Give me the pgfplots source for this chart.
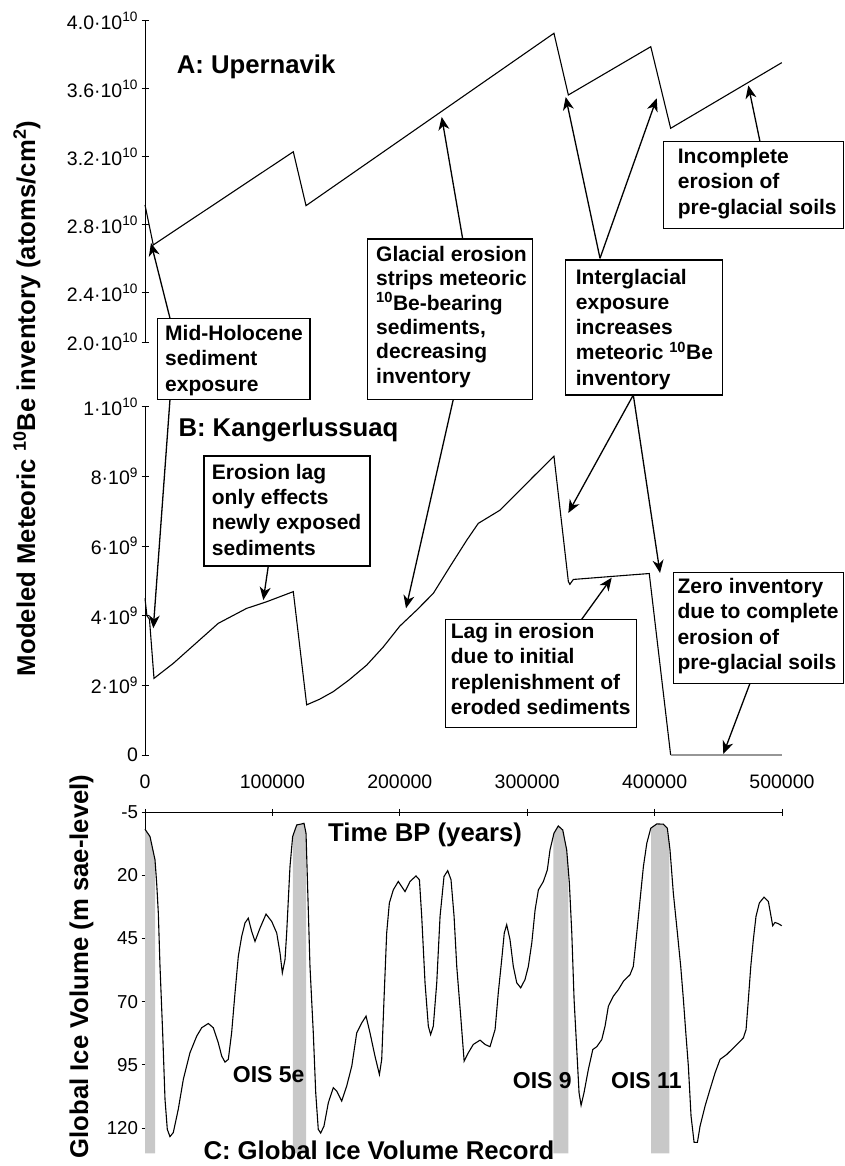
\documentclass[border=0pt]{standalone}
\usepackage{fontspec}
\setmainfont{Liberation Sans}
\usepackage{pgfplots}
\pgfplotsset{compat=1.18}
\usetikzlibrary{arrows.meta}
\definecolor{band}{RGB}{200,200,200}
\definecolor{zline}{RGB}{150,150,150}
\newcommand\annofont{\fontsize{21}{25}\selectfont\bfseries}
\newcommand\labfont{\fontsize{25.7}{30}\selectfont\bfseries}
\newcommand\oisfont{\fontsize{23}{26}\selectfont\bfseries}
\pgfplotsset{
  myax/.style={scale only axis, width=637pt, xmin=0, xmax=500000, clip=false,
    scaled ticks=false,
    tick style={line width=0.9pt, black}, major tick length=7pt, tick align=outside,
    every tick label/.append style={font=\fontsize{19.5}{22}\selectfont},
    minor tick num=0},
  noarrows/.style={axis line style={-, line width=0.9pt},
    every outer x axis line/.append style={-},
    every outer y axis line/.append style={-},
    every inner x axis line/.append style={-},
    every inner y axis line/.append style={-}},
}
\begin{document}
\begin{tikzpicture}
\useasboundingbox (0,0) rectangle (844pt,1166pt);

% Panel A
\begin{axis}[myax, at={(145pt,824pt)}, anchor=south west, height=321.3pt,
  ymin=2.11, ymax=4.0, axis y line=left, axis x line=none, noarrows,
  ytick={2.11,2.4,2.8,3.2,3.6,4.0},
  yticklabels={2.0·10\textsuperscript{10},2.4·10\textsuperscript{10},2.8·10\textsuperscript{10},3.2·10\textsuperscript{10},3.6·10\textsuperscript{10},4.0·10\textsuperscript{10}}]
\addplot[black, line width=1.1pt] coordinates {
(0,2.916) (6500,2.681) (116400,3.229) (126400,2.912) (321000,3.926)
(332300,3.563) (397000,3.847) (412600,3.367) (499800,3.753)};
\end{axis}

% Panel B
\begin{axis}[myax, at={(145pt,411pt)}, anchor=south west, height=348.3pt,
  ymin=0, ymax=10, axis y line=left, axis x line=none, noarrows,
  ytick={0,2,4,6,8,10},
  yticklabels={0,2·10\textsuperscript{9},4·10\textsuperscript{9},6·10\textsuperscript{9},8·10\textsuperscript{9},1·10\textsuperscript{10}}]
\addplot[black, line width=1.1pt] coordinates {
(0,4.50) (1500,4.00) (3500,3.90) (7060,2.20) (22200,2.63) (57500,3.78)
(79800,4.21) (95500,4.40) (116400,4.69) (126900,1.44) (137000,1.60) (147800,1.82)
(160000,2.15) (174000,2.58) (187000,3.10) (200000,3.70) (213000,4.15) (226300,4.64) (239400,5.41)
(252600,6.17) (261600,6.65) (278700,7.03) (304800,7.99) (321000,8.58)
(332300,4.98) (333500,4.90) (336200,5.04) (378000,5.16) (395800,5.21)
(412600,0)};
\addplot[zline, line width=1.1pt] coordinates {(412600,0) (500000,0)};
\end{axis}

% Panel C
\begin{axis}[myax, at={(145pt,12.7pt)}, anchor=south west, height=341pt,
  ymin=-5, ymax=130, y dir=reverse, axis y line=left, axis x line=top, noarrows,
  ytick={-5,20,45,70,95,120},
  yticklabels={-5,20,45,70,95,120},
  yticklabel style={font=\fontsize{18.7}{22}\selectfont},
  xtick={0,100000,200000,300000,400000,500000},
  xticklabels={0,100000,200000,300000,400000,500000},
  xticklabel style={yshift=17pt}]
\addplot[fill=band, draw=none] coordinates {(0,130) (0,1.7) (3925,4.6) (7850,13.8) (7850,130)} -- cycle;
\addplot[fill=band, draw=none] coordinates {(116000,130) (116000,4.3) (119100,0) (123000,-0.4) (124800,-0.65) (126400,3.3) (126400,130)} -- cycle;
\addplot[fill=band, draw=none] coordinates {(320500,130) (320500,4) (321000,3.3) (324400,0.4) (327900,2) (331000,9.9) (332300,18) (332300,130)} -- cycle;
\addplot[fill=band, draw=none] coordinates {(397200,130) (397200,1.2) (401700,-0.4) (406900,-0.3) (410000,1.3) (411600,7.5) (411600,130)} -- cycle;
\addplot[black, line width=1.1pt] table {
x y
0 1.7
3925 4.6
7850 13.8
9160 23
10460 34.9
11780 56
13870 82.3
15700 108.6
17500 120.5
19600 123.4
22200 121.8
26100 112.6
30100 100.7
35300 90.2
40600 83.6
44500 80.3
49700 78.6
53600 80.3
57500 86.2
60200 91.5
62800 93.9
65400 92.8
68000 82.3
70650 66.5
73250 52
75900 44.1
78500 38.8
81100 36.9
83750 42.2
86350 46.1
90300 40.8
95000 35.3
99450 38.2
103400 42.8
106000 50.7
107800 58.6
109900 53.3
111200 42.8
112500 29.6
113800 16.5
115900 4.6
119100 0
123000 -0.4
124800 -0.65
126400 3.3
127400 20.4
129500 56
132100 82.3
134000 106
136000 120.5
137900 122
140500 119.2
143900 110
147800 104
150500 105.4
154400 109.3
158300 103.4
162300 95.5
166200 82.3
170100 78.4
173500 75.7
176600 82.3
180500 91.5
184000 98.8
185800 92.8
187600 69.1
189700 42.8
191800 30.9
194900 25.7
198800 22.4
204100 26.4
208000 22.4
212700 20.2
215400 21.7
217200 36.2
219800 62.5
222400 79.7
224200 83
226300 79.7
229000 62.5
231600 36.2
234700 20.4
237600 18.1
240200 21.7
242600 36.2
244700 56
247800 75.7
250500 93.5
253800 90.2
257700 86.9
263000 85.2
266900 86.9
270800 87.8
274800 81
277300 66.5
280000 53.3
282000 42.8
283900 39.5
286500 45.4
289100 56
291800 62.5
294900 64.5
298300 61.2
300900 56
303600 46.7
306200 33.6
308800 25.7
312700 22.4
315800 17.8
317900 9.9
321000 3.3
324400 0.4
327900 2
331000 9.9
333100 23
335000 42.8
336800 69.1
338900 88.9
340700 106
342300 111
344600 106
348000 96.8
351500 88.9
354600 87.8
358500 85
361100 79.7
363700 71.8
367600 67.8
371600 65.2
375500 61.9
380700 59.3
383300 56
386000 42.8
388600 29.6
391200 16.5
393900 7.2
397000 1.3
401700 -0.4
406900 -0.3
410000 1.3
412100 9.9
414700 27
417900 42.8
420500 56
422600 69.1
424500 82.3
426500 95.5
428600 115.2
431000 125.7
433600 125.7
435700 119.2
439600 111.3
443500 104.7
447500 98.1
451400 92.8
456600 90.9
463200 87.6
469700 84.3
471800 81
473600 69.1
475500 56
477500 45.4
479600 36.2
482200 30.9
485900 28.6
489300 30.3
491400 36.2
492700 39.9
494500 38.6
497100 39.1
499800 39.9
};
\end{axis}

\begin{scope}[x=1pt,y=-1pt,shift={(0pt,1166pt)}]
\tikzset{ann/.style={line width=1.3pt, -{Stealth[length=13pt,width=11pt,inset=4pt]}},
  bx/.style={line width=1.3pt, fill=white}}
% arrows
\draw[ann] (170,318.3) -- (151,243);
\draw[ann] (170,399.3) -- (153.3,628.3);
\draw[ann] (462.7,239) -- (441.7,117);
\draw[ann] (453.3,399.3) -- (406,608.3);
\draw[ann] (600,258.3) -- (565.7,97);
\draw[ann] (600,258.3) -- (656.7,98.3);
\draw[ann] (633.3,395) -- (568.3,513);
\draw[ann] (633.3,395) -- (660,573);
\draw[ann] (760,141.7) -- (748.3,85.5);
\draw[ann] (268.3,566) -- (263.3,600);
\draw[ann] (581.7,619.3) -- (611.7,577.7);
\draw[ann] (750,683.3) -- (723.3,754);
% boxes
\draw[bx] (157.3,318.3) rectangle (310,399.3);
\draw[bx] (367.7,239) rectangle (532.3,399.3);
\draw[bx] (565.7,260) rectangle (722.7,395);
\draw[bx] (663.3,141.7) rectangle (843.3,228.3);
\draw[bx] (204,456) rectangle (370,566);
\draw[bx] (445.7,619.3) rectangle (636.7,727.7);
\draw[bx] (673.3,572.3) rectangle (843.3,683.3);
% box texts
\begin{scope}[every node/.style={anchor=base west, font=\annofont, inner sep=0pt}]
\node at (165,340.7) {Mid-Holocene};
\node at (165,366) {sediment};
\node at (165,391.3) {exposure};
\node at (376,261.7) {Glacial erosion};
\node at (376,286) {strips meteoric};
\node at (376,310.3) {\textsuperscript{10}Be-bearing};
\node at (376,334.6) {sediments,};
\node at (376,358.9) {decreasing};
\node at (376,383.3) {inventory};
\node at (575.7,284.3) {Interglacial};
\node at (575.7,309.3) {exposure};
\node at (575.7,334.3) {increases};
\node at (575.7,360) {meteoric \textsuperscript{10}Be};
\node at (575.7,385.5) {inventory};
\node at (677.7,163.3) {Incomplete};
\node at (677.7,189) {erosion of};
\node at (677.7,214.7) {pre-glacial soils};
\node at (211.7,479.3) {Erosion lag};
\node at (211.7,504.3) {only effects};
\node at (211.7,530) {newly exposed};
\node at (211.7,555.5) {sediments};
\node at (450.7,638.3) {Lag in erosion};
\node at (450.7,664) {due to initial};
\node at (450.7,689.3) {replenishment of};
\node at (450.7,715) {eroded sediments};
\node at (677.3,593.3) {Zero inventory};
\node at (677.3,619) {due to complete};
\node at (677.3,644.3) {erosion of};
\node at (677.3,670) {pre-glacial soils};
\end{scope}
% panel labels
\node[anchor=base west, font=\labfont, inner sep=0pt] at (176.7,74) {A: Upernavik};
\node[anchor=base west, font=\labfont, inner sep=0pt] at (178.3,436.7) {B: Kangerlussuaq};
\node[anchor=base west, font=\labfont, inner sep=0pt] at (203.3,1160) {C: Global Ice Volume Record};
\node[anchor=base west, font=\labfont, inner sep=0pt] at (328,841.7) {Time BP (years)};
\node[anchor=base west, font=\oisfont, inner sep=0pt] at (232.7,1082.7) {OIS 5e};
\node[anchor=base west, font=\oisfont, inner sep=0pt] at (512.7,1088.3) {OIS 9};
\node[anchor=base west, font=\oisfont, inner sep=0pt] at (611,1088.3) {OIS 11};
\node[anchor=base, rotate=90, font=\labfont, inner sep=0pt] at (35,398.5) {Modeled Meteoric \textsuperscript{10}Be inventory (atoms/cm\textsuperscript{2})};
\node[anchor=base, rotate=90, font=\labfont, inner sep=0pt] at (88,966.5) {Global Ice Volume (m sae-level)};
\end{scope}
\end{tikzpicture}
\end{document}
